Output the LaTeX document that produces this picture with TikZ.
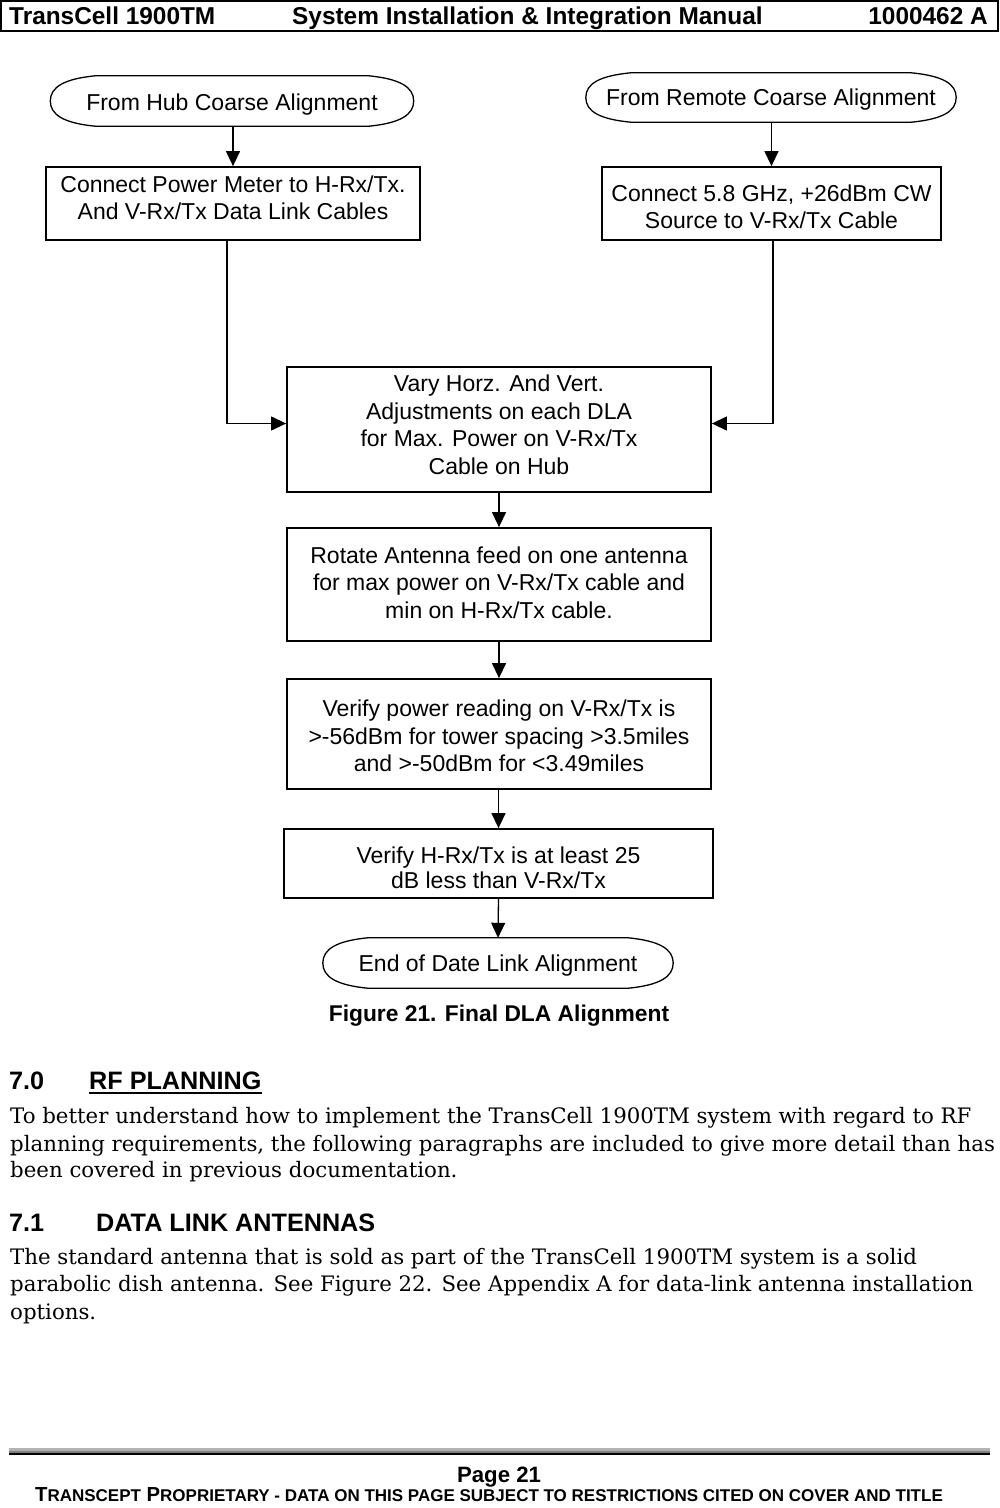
\documentclass[tikz,border=0pt]{standalone}
\usepackage{fontspec}
\setmainfont{DejaVu Serif}
\newfontfamily\arialf{Liberation Sans}
\usetikzlibrary{arrows.meta,calc}
\newcommand\termoutline[1]{%
 \draw[termline] ([xshift=45pt]#1.north west) .. controls ([xshift=14pt,yshift=-3pt]#1.north west) and ([yshift=14pt]#1.west) .. (#1.west)
  .. controls ([yshift=-14pt]#1.west) and ([xshift=14pt,yshift=3pt]#1.south west) .. ([xshift=45pt]#1.south west)
  -- ([xshift=-45pt]#1.south east)
  .. controls ([xshift=-14pt,yshift=3pt]#1.south east) and ([yshift=-14pt]#1.east) .. (#1.east)
  .. controls ([yshift=14pt]#1.east) and ([xshift=-14pt,yshift=-3pt]#1.north east) .. ([xshift=-45pt]#1.north east)
  -- cycle;}
\newcommand\smcx[1]{{\fontsize{17}{19}\selectfont #1}}
\begin{document}
\begin{tikzpicture}[x=1pt,y=-1pt,
 procbox/.style={draw, line width=1.8pt, rectangle, inner sep=0pt},
 termnode/.style={rectangle, inner sep=0pt},
 flowtext/.style={align=center, font=\arialf\fontsize{23}{27.5}\selectfont, inner sep=0pt},
 conn/.style={line width=1.3pt, -{Triangle[length=15pt,width=14pt]}},
 termline/.style={line width=1.3pt},
 bodytext/.style={anchor=base west, inner sep=0pt, font=\fontsize{21.3}{28}\selectfont},
 headtext/.style={anchor=base west, inner sep=0pt, font=\arialf\bfseries\fontsize{25.2}{28}\selectfont},
 hdrtext/.style={inner sep=0pt, font=\arialf\bfseries\fontsize{24.4}{28}\selectfont},
]
\useasboundingbox (0,0) rectangle (1000,1508);
\fill[white] (0,0) rectangle (1000,1508);

% header
\draw[line width=1.6pt] (0.8,0.8) rectangle (998,31);
\node[hdrtext, anchor=base west] (h1) at (9,24) {TransCell 1900TM};
\node[hdrtext, anchor=base west] (h2) at (292,24) {System Installation \& Integration Manual};
\node[hdrtext, anchor=base east] (h3) at (988,24) {1000462 A};

% flowchart shapes
\node[termnode, minimum width=363pt, minimum height=50pt] (hub) at (232,101) {};
\node[termnode, minimum width=370pt, minimum height=49pt] (rem) at (771,97.5) {};
\termoutline{hub}
\termoutline{rem}
\node[procbox, minimum width=374pt, minimum height=73pt] (boxA) at (233,203.5) {};
\node[procbox, minimum width=339pt, minimum height=73pt] (boxB) at (771.5,203.5) {};
\node[procbox, minimum width=424pt, minimum height=125pt] (boxC) at (499,429.5) {};
\node[procbox, minimum width=424pt, minimum height=113pt] (boxD) at (499,584.5) {};
\node[procbox, minimum width=424pt, minimum height=110pt] (boxE) at (499,734) {};
\node[procbox, minimum width=429pt, minimum height=69pt] (boxF) at (498.5,863.5) {};
\node[termnode, minimum width=350pt, minimum height=50pt] (endn) at (498,963) {};
\termoutline{endn}

% flowchart texts
\node[flowtext] (hubt) at ([yshift=-4pt]hub.center) {From Hub Coarse Alignment};
\node[flowtext] (remt) at ([yshift=-2pt]rem.center) {From Remote Coarse Alignment};
\node[flowtext] (boxAt) at ([yshift=5.5pt]boxA.center) {Connect Power Meter to H-Rx/Tx.\\And V-Rx/Tx Data Link Cables};
\node[flowtext] (boxBt) at ([yshift=-3.5pt]boxB.center) {Connect 5.8 GHz, +26dBm CW\\Source to V-Rx/Tx Cable};
\node[flowtext] (boxCt) at ([yshift=4.5pt]boxC.center) {Vary Horz. And Vert.\\Adjustments on each DLA\\for Max. Power on V-Rx/Tx\\Cable on Hub};
\node[flowtext] (boxDt) at ([yshift=2pt]boxD.center) {Rotate Antenna feed on one antenna\\for max power on V-Rx/Tx cable and\\min on H-Rx/Tx cable.};
\node[flowtext] (boxEt) at ([yshift=-2pt]boxE.center) {Verify power reading on V-Rx/Tx is\\>-56dBm for tower spacing >3.5miles\\and >-50dBm for <3.49miles};
\node[flowtext, font=\arialf\fontsize{23}{25.5}\selectfont] (boxFt) at ([yshift=-4.5pt]boxF.center) {Verify H-Rx/Tx is at least 25\\dB less than V-Rx/Tx};
\node[flowtext] (endt) at ([yshift=-3pt]endn.center) {End of Date Link Alignment};

\node[inner sep=0pt, font=\arialf\bfseries\fontsize{22.8}{27}\selectfont] (cap) at (499,1016) {Figure 21. Final DLA Alignment};

\draw[conn] (hub.south -| boxA.north) -- (boxA.north);
\draw[conn] (rem.south -| boxB.north) -- (boxB.north);
\draw[conn] ([xshift=-6pt]boxA.south) |- ([yshift=6pt]boxC.west);
\draw[conn] ([xshift=1.5pt]boxB.south) |- ([yshift=6pt]boxC.east);
\draw[conn] (boxC.south) -- (boxD.north);
\draw[conn] (boxD.south) -- (boxE.north);
\draw[conn] (boxE.south -| boxF.north) -- (boxF.north);
\draw[conn] (boxF.south) -- (endn.north);

% section 7.0
\node[headtext] (s70) at (9,1089) {7.0};
\node[headtext] (s70t) at (89,1089) {RF PLANNING};
\draw[line width=2pt] ([yshift=-4pt]s70t.base west) -- ([yshift=-4pt]s70t.base east);
\node[bodytext] (p1) at (10,1123) {To better understand how to implement the TransCell 1900TM system with regard to RF};
\node[bodytext] (p2) at (10,1151) {planning requirements, the following paragraphs are included to give more detail than has};
\node[bodytext] (p3) at (10,1177) {been covered in previous documentation.};

% section 7.1
\node[headtext] (s71) at (9,1231) {7.1};
\node[headtext] (s71t) at (96,1231) {DATA LINK ANTENNAS};
\node[bodytext] (q1) at (10,1264) {The standard antenna that is sold as part of the TransCell 1900TM system is a solid};
\node[bodytext] (q2) at (10,1291) {parabolic dish antenna. See Figure 22. See Appendix A for data-link antenna installation};
\node[bodytext] (q3) at (10,1319) {options.};

% footer
\fill[black!30] (9,1448) rectangle (990,1450.5);
\fill[black!50] (9,1450.5) rectangle (990,1453);
\fill[black] (9,1453) rectangle (990,1454.8);
\node[inner sep=0pt, anchor=base, font=\arialf\bfseries\fontsize{22.2}{26}\selectfont] (pg) at (499,1482) {Page 21};
\node[inner sep=0pt, anchor=base, font=\arialf\bfseries\fontsize{20.3}{22}\selectfont] (prop) at (489,1501) {T\smcx{RANSCEPT} P\smcx{ROPRIETARY - DATA ON THIS PAGE SUBJECT TO RESTRICTIONS CITED ON COVER AND TITLE}};
\end{tikzpicture}
\end{document}
